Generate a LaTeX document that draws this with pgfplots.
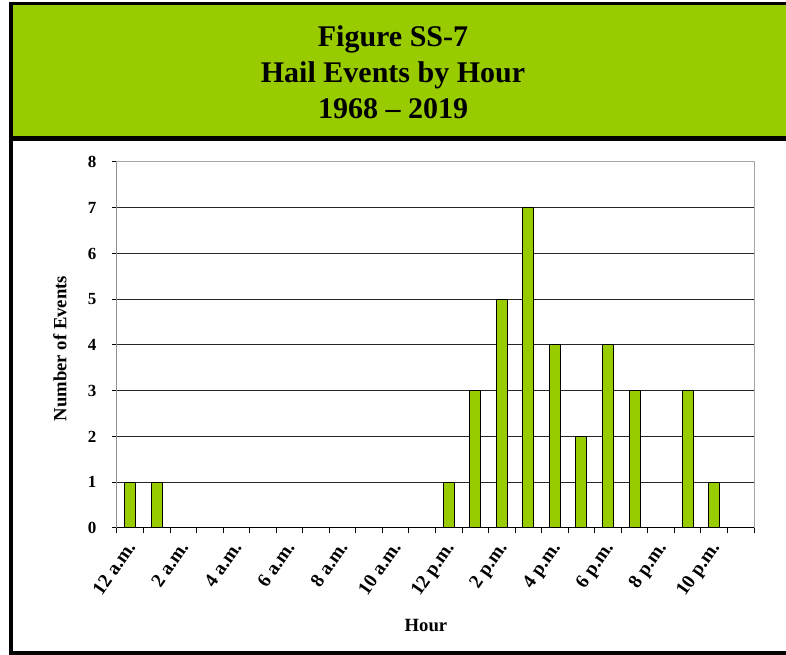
\documentclass[border=0pt]{standalone}
\usepackage{fontspec}
\setmainfont{Liberation Serif}
\usepackage{pgfplots}
\pgfplotsset{compat=1.18}
\definecolor{barg}{HTML}{99CC00}
\newcommand\xtickfont{\fontsize{14.5}{17}\selectfont\bfseries}
\newcommand\ytickfont{\fontsize{12.75}{15}\selectfont\bfseries}
\newcommand\labfont{\fontsize{14}{16}\selectfont\bfseries}
\newcommand\titfont{\fontsize{22.5}{27}\selectfont\bfseries}
\begin{document}
\begin{tikzpicture}[x=0.75pt,y=0.75pt]
\path[use as bounding box, fill=white] (0,0) rectangle (786,655);
\fill[barg] (13,519) rectangle (786,650);
\draw[line width=2.25pt] (786,651.5) -- (9.5,651.5);
\draw[line width=3pt] (11,653) -- (11,0);
\draw[line width=3pt] (9,2) -- (786,2);
\draw[line width=3.75pt] (9,516.5) -- (786,516.5);
\node[anchor=base, inner sep=0pt, font=\titfont] at (393,608) {Figure SS-7};
\node[anchor=base, inner sep=0pt, font=\titfont] at (393,572) {Hail Events by Hour};
\node[anchor=base, inner sep=0pt, font=\titfont] at (393,536) {1968 – 2019};
\begin{axis}[
  at={(87.75pt,95.25pt)}, anchor=south west,
  scale only axis, width=477.75pt, height=274.5pt,
  xmin=0, xmax=24, ymin=0, ymax=8,
  ytick={0,...,8},
  xtick={0,...,24}, xticklabels={},
  extra x ticks={0.5,2.5,...,22.5},
  extra x tick labels={12 a.m.,2 a.m.,4 a.m.,6 a.m.,8 a.m.,10 a.m.,12 p.m.,2 p.m.,4 p.m.,6 p.m.,8 p.m.,10 p.m.},
  extra x tick style={major tick length=0pt, grid=none,
    tick label style={font=\xtickfont, xshift=4.5pt, yshift=-14.25pt, anchor=base east, inner sep=0pt, rotate=55}},
  tick align=outside, major tick length=3.75pt,
  xtick pos=bottom, ytick pos=left,
  ymajorgrids, grid style={black!85, line width=0.75pt},
  axis line style={draw=black!35, line width=0.75pt},
  tick style={black, line width=0.75pt},
  /pgf/number format/assume math mode=true,
  yticklabel style={font=\ytickfont, anchor=east, inner sep=0pt, xshift=-11.5pt},
  xlabel={Hour}, ylabel={Number of Events},
  label style={font=\labfont},
  xlabel style={at={(rel axis cs:0.485,-0.284)}, anchor=base},
  ylabel style={at={(rel axis cs:-0.0895,0.49)}, anchor=center},
  ybar, bar width=8.25pt, bar shift=0pt,
]
\addplot[fill=barg, draw=black, line width=0.75pt] coordinates {
(0.5,1) (1.5,1) (2.5,0) (3.5,0) (4.5,0) (5.5,0) (6.5,0) (7.5,0)
(8.5,0) (9.5,0) (10.5,0) (11.5,0) (12.5,1) (13.5,3) (14.5,5) (15.5,7)
(16.5,4) (17.5,2) (18.5,4) (19.5,3) (20.5,0) (21.5,3) (22.5,1) (23.5,0)};
\draw[black, line width=0.75pt] (rel axis cs:0,1) -- (rel axis cs:0,0) -- (rel axis cs:1,0);
\end{axis}
\end{tikzpicture}
\end{document}
